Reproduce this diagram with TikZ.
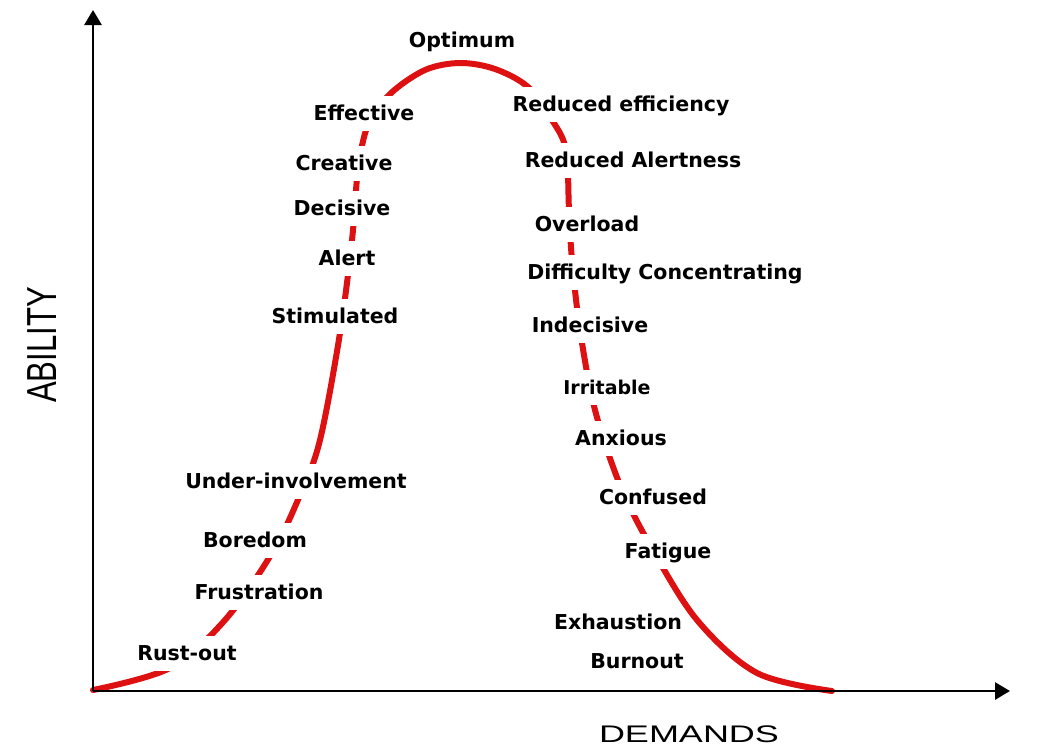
\documentclass[tikz,border=0pt]{standalone}
\usepackage{fontspec}
\usetikzlibrary{arrows.meta}
\newfontfamily\lab{DejaVu Sans}
\newfontfamily\demfont{Liberation Sans}[FakeStretch=1.5]
\newfontfamily\abfont{Liberation Sans}[FakeStretch=0.74]
\definecolor{curvered}{RGB}{221,17,17}
\tikzset{
  lbl/.style={fill=white, inner xsep=2pt, inner ysep=10pt, text height=15pt, text depth=0pt,
              font=\lab\bfseries\fontsize{20.5}{24}\selectfont, text=black},
  axis/.style={line width=2.8pt, -{Triangle[length=15pt,width=17pt]}},
  curve/.style={line width=6pt, curvered, line cap=round}
}
\begin{document}
\begin{tikzpicture}[x=1pt,y=1pt]
\useasboundingbox (0,0) rectangle (1064,-753);
\fill[white] (0,0) rectangle (1064,-753);
% origin and axis ends
\coordinate (O) at (93,-691);
\coordinate (ytop) at (93,-10);
\coordinate (xend) at (1010,-691);
% curve
\draw[curve] plot[smooth, tension=0.55] coordinates {
 (93,-690) (170,-668) (225,-620) (272,-553) (300,-495) (320,-440) (340,-333)
 (352,-240) (358,-170) (368,-125) (390,-94) (425,-70) (460,-63) (495,-69)
 (528,-87) (552,-120) (566,-150) (569,-210) (572,-260) (580,-330) (595,-410)
 (620,-485) (650,-545) (697,-620) (757,-673) (832,-691)};
% axes
\draw[axis] (O) -- (ytop);
\draw[axis] (O) -- (xend);
% axis labels
\node[font=\abfont\fontsize{42}{44}\selectfont, rotate=90] (ability) at (42,-345) {ABILITY};
\node[font=\demfont\fontsize{24}{26}\selectfont] (demands) at (689,-734) {DEMANDS};
% left side labels
\node[lbl] (optimum) at (462,-40) {Optimum};
\node[lbl] (effective) at (364,-113) {Effective};
\node[lbl] (creative) at (344,-163) {Creative};
\node[lbl] (decisive) at (342,-208) {Decisive};
\node[lbl] (alert) at (347,-258) {Alert};
\node[lbl] (stimulated) at (335,-316) {Stimulated};
\node[lbl] (under) at (296,-481) {Under-involvement};
\node[lbl] (boredom) at (255,-540) {Boredom};
\node[lbl] (frustration) at (259,-592) {Frustration};
\node[lbl] (rustout) at (187,-653) {Rust-out};
% right side labels
\node[lbl] (redeff) at (621,-104) {Reduced efficiency};
\node[lbl] (redalert) at (633,-160) {Reduced Alertness};
\node[lbl] (overload) at (587,-224) {Overload};
\node[lbl] (difficulty) at (665,-272) {Difficulty Concentrating};
\node[lbl] (indecisive) at (590,-325) {Indecisive};
\node[lbl, font=\lab\bfseries\fontsize{19}{22}\selectfont] (irritable) at (607,-387) {Irritable};
\node[lbl] (anxious) at (621,-438) {Anxious};
\node[lbl] (confused) at (653,-497) {Confused};
\node[lbl] (fatigue) at (668,-551) {Fatigue};
\node[lbl, fill=none] (exhaustion) at (618,-622) {Exhaustion};
\node[lbl, fill=none] (burnout) at (637,-661) {Burnout};
\end{tikzpicture}
\end{document}
